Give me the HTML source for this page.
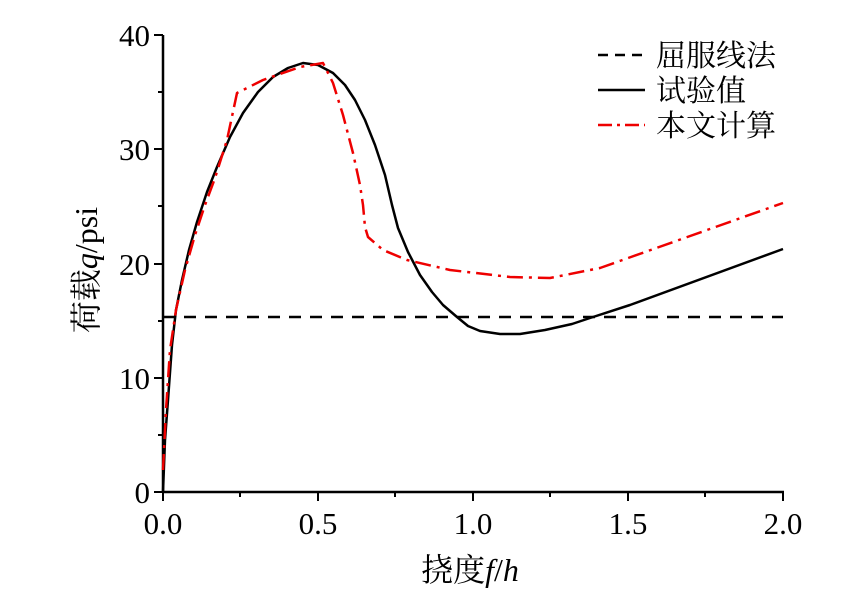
<!DOCTYPE html>
<html><head><meta charset="utf-8"><style>body{margin:0;background:#fff}</style></head><body>
<svg width="868" height="602" xmlns="http://www.w3.org/2000/svg" font-family="'Liberation Serif','Noto Serif CJK SC',serif">
<rect width="868" height="602" fill="#fff"/>
<g stroke="#000" stroke-width="2.5" fill="none">
<line x1="163" y1="35" x2="163" y2="493"/>
<line x1="162" y1="492" x2="784" y2="492"/>
</g>
<g stroke="#000" stroke-width="2">
<line x1="154" y1="35" x2="163" y2="35"/><line x1="154" y1="149" x2="163" y2="149"/><line x1="154" y1="264" x2="163" y2="264"/><line x1="154" y1="378" x2="163" y2="378"/><line x1="154" y1="492" x2="163" y2="492"/>
<line x1="158" y1="92" x2="163" y2="92"/><line x1="158" y1="206" x2="163" y2="206"/><line x1="158" y1="321" x2="163" y2="321"/><line x1="158" y1="435" x2="163" y2="435"/>
<line x1="163" y1="492" x2="163" y2="501"/><line x1="318" y1="492" x2="318" y2="501"/><line x1="473" y1="492" x2="473" y2="501"/><line x1="628" y1="492" x2="628" y2="501"/><line x1="783" y1="492" x2="783" y2="501"/>
<line x1="240" y1="492" x2="240" y2="497"/><line x1="395" y1="492" x2="395" y2="497"/><line x1="550" y1="492" x2="550" y2="497"/><line x1="705" y1="492" x2="705" y2="497"/>
</g>
<g font-size="31" fill="#000" text-anchor="end">
<text x="150" y="46">40</text><text x="150" y="160">30</text><text x="150" y="275">20</text><text x="150" y="389">10</text><text x="150" y="503">0</text>
</g>
<g font-size="31" fill="#000" text-anchor="middle">
<text x="163" y="534">0.0</text><text x="318" y="534">0.5</text><text x="473" y="534">1.0</text><text x="628" y="534">1.5</text><text x="783" y="534">2.0</text>
</g>
<text x="470" y="581" font-size="32" text-anchor="middle">挠度<tspan font-style="italic">f</tspan>/<tspan font-style="italic">h</tspan></text>
<text transform="translate(97,270) rotate(-90)" font-size="32" text-anchor="middle">荷载<tspan font-style="italic">q</tspan>/psi</text>
<line x1="163" y1="317" x2="783" y2="317" stroke="#000" stroke-width="2.5" stroke-dasharray="12,9"/>
<polyline fill="none" stroke="#000" stroke-width="2.5" stroke-linejoin="round" points="163,492 165,440 168,400 172,345 176,310 182,280 189,250 197,222 207,192 217,167 230,137 243,113 258,92 273,77 288,68 303,63 318,65 333,73 345,85 355,100 365,120 375,145 385,175 392,205 398,228 408,252 420,275 432,292 443,305 457,317 468,326 480,331 500,334 520,334 545,330 572,324 590,318 630,305 783,249"/>
<polyline fill="none" stroke="#e00" stroke-width="2.5" stroke-dasharray="16,6,3,6" stroke-linejoin="round" points="163,470 166,410 170,350 176,310 185,270 195,235 205,205 215,178 227,140 237,93 263,80 300,67 323,63 333,83 343,115 353,153 360,185 363,205 365,227 368,237 383,250 407,260 450,270 510,277 550,278 600,268 783,203"/>
<g>
<line x1="598" y1="55" x2="645" y2="55" stroke="#000" stroke-width="2.5" stroke-dasharray="10,7"/>
<line x1="598" y1="90" x2="645" y2="90" stroke="#000" stroke-width="2.5"/>
<line x1="598" y1="125" x2="645" y2="125" stroke="#e00" stroke-width="2.5" stroke-dasharray="14,5,3,5"/>
<g font-size="30" fill="#000">
<text x="656" y="66">屈服线法</text><text x="656" y="101">试验值</text><text x="656" y="136">本文计算</text>
</g>
</g>
</svg>
</body></html>
